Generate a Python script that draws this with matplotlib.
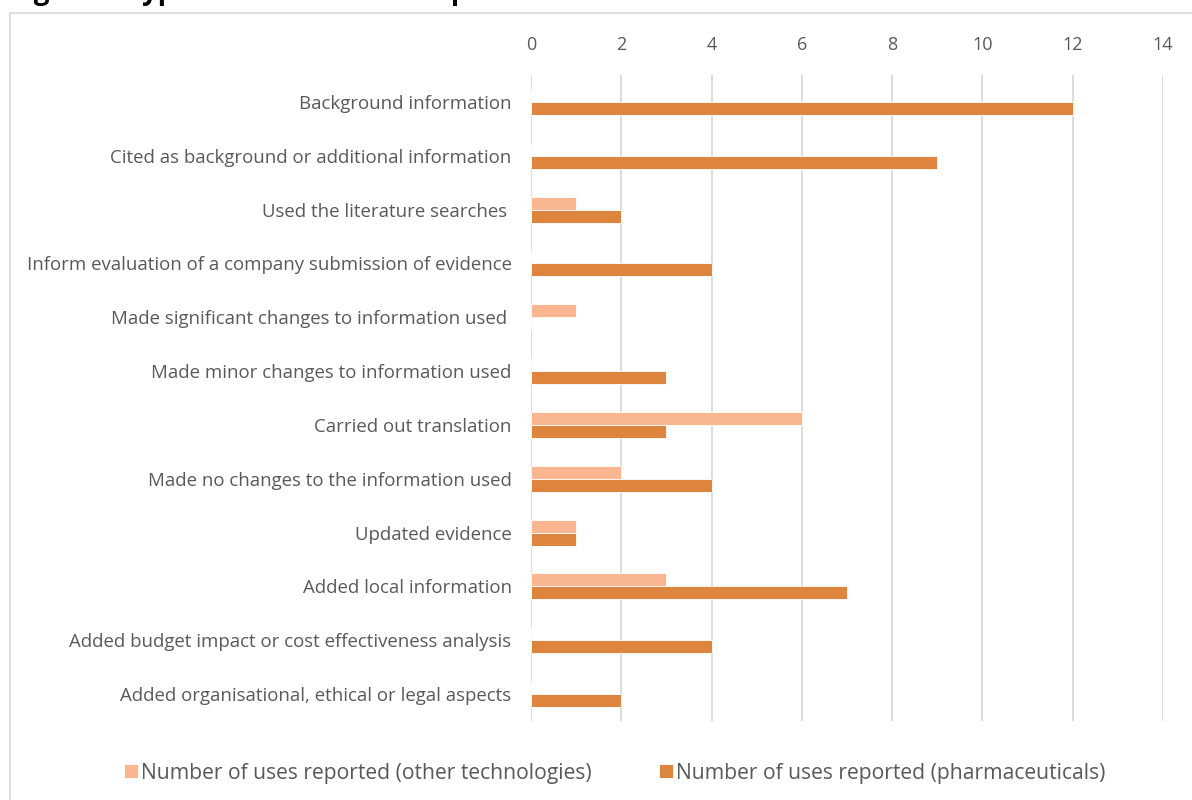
import matplotlib.pyplot as plt
from matplotlib.patches import Rectangle
import numpy as np

categories = [
    "Background information",
    "Cited as background or additional information",
    "Used the literature searches ",
    "Inform evaluation of a company submission of evidence",
    "Made significant changes to information used ",
    "Made minor changes to information used",
    "Carried out translation",
    "Made no changes to the information used",
    "Updated evidence",
    "Added local information",
    "Added budget impact or cost effectiveness analysis",
    "Added organisational, ethical or legal aspects",
]
other_tech = [0, 0, 1, 0, 1, 0, 6, 2, 1, 3, 0, 0]
pharma = [12, 9, 2, 4, 0, 3, 3, 4, 1, 7, 4, 2]
x_ticks = [0, 2, 4, 6, 8, 10, 12, 14]

plt.rcParams['font.family'] = ['Open Sans', 'DejaVu Sans']
txt = '#595959'

fig = plt.figure(figsize=(11.92, 8), dpi=100)
fig.patches.append(Rectangle((10 / 1192, -0.1), 1.2, 1 - 13 / 800 + 0.1,
                             transform=fig.transFigure, fill=False,
                             edgecolor='#d9d9d9', linewidth=1.2))
# title sits above the top edge, only descenders show
fig.text(10 / 1192, 1 + 1 / 800, "Figure 4 Types of information reported",
         fontsize=20, fontweight='bold', va='baseline', ha='left', color='black')

ax = fig.add_axes([531 / 1192, 1 - 721 / 800, 632 / 1192, 646 / 800])
y = np.arange(len(categories))
h = 0.24
ax.barh(y - h / 2, other_tech, height=h, color='#F9B690', edgecolor='white', linewidth=0.6,
        label='Number of uses reported (other technologies)', zorder=3)
ax.barh(y + h / 2, pharma, height=h, color='#DD843F', edgecolor='white', linewidth=0.6,
        label='Number of uses reported (pharmaceuticals)', zorder=3)

ax.set_ylim(len(categories) - 0.5, -0.5)
ax.set_xlim(0, 14)
ax.set_xticks(x_ticks)
ax.xaxis.tick_top()
ax.tick_params(axis='x', length=0, pad=15, labelsize=13, labelcolor=txt)
ax.set_yticks(y)
ax.set_yticklabels(categories)
ax.tick_params(axis='y', length=0, pad=14, labelsize=13.4, labelcolor=txt)
ax.grid(axis='x', color='#d9d9d9', linewidth=1.3, zorder=0)
for s in ax.spines.values():
    s.set_visible(False)

leg = fig.legend(loc='center', bbox_to_anchor=(0.516, 1 - 773 / 800), ncol=2, frameon=False,
                 fontsize=15.2, handlelength=0.65, handleheight=0.65, handletextpad=0.15,
                 columnspacing=3.2)
for t in leg.get_texts():
    t.set_color(txt)

fig.savefig('out.png', dpi=100)
